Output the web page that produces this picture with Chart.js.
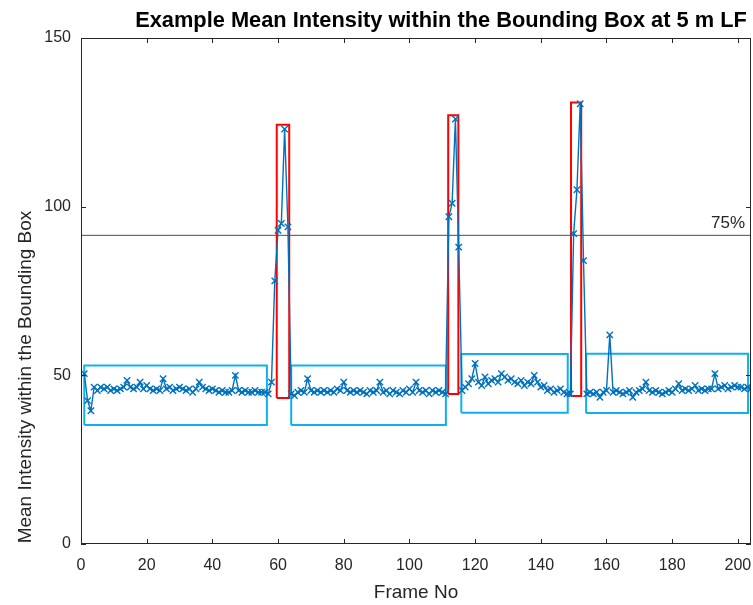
<!DOCTYPE html>
<html><head><meta charset="utf-8">
<script src="https://cdn.jsdelivr.net/npm/chart.js@4.4.1/dist/chart.umd.min.js"></script>
<style>html,body{margin:0;padding:0;background:#fff;}</style>
</head><body>
<canvas id="c" width="753" height="605"></canvas>
<script>
// ---- data ----
const chartTitle = "Example Mean Intensity within the Bounding Box at 5 m LF";
const xAxisTitle = "Frame No";
const yAxisTitle = "Mean Intensity within the Bounding Box";
const firstFrame = 1;
const meanIntensity = [
  50.5,42.5,39.5,46.5,45.5,46.5,46,46.5,45.5,46,
  45.5,46,46.5,48.5,46.5,46,46.5,48,46,47,
  46,45.5,46,45.5,49,46,46.5,45.5,46,46.5,
  46,45.5,46,45,46,48,46.5,46,45.5,46,
  45.5,45,45.5,45,45,45.5,50,45.5,45,45.5,
  45,45,45.5,45,45,45,44.5,48,78,93,
  95,123,94,44.5,44,45,45.5,45,49,45.5,
  45,45.5,45,45.5,45,45.5,45,46,45.5,48,
  45.5,45,45.5,45,45.5,45,44.5,45.5,45,45.5,
  48,45,45.5,44.5,45.5,45,44.5,45.5,45,46,
  45,48,45.5,45,45.5,44.5,45.5,45,45.5,45,
  44.5,97,101,126,88,45.5,46.5,47.5,49,53.5,
  48,47,49.5,47.5,48.5,49,48,50.5,49.5,48.5,
  49,48,47.5,48.5,47,48,47.5,50,48,46.5,
  47,45.5,46,45,45.5,46,45,44.5,44.5,92,
  105,130.5,84,44.5,45,44.5,45,43.5,45,45.5,
  62,45,45.5,45,44.5,45,45.5,43.5,45,45.5,
  46,48,45.5,45,45.5,45,44.5,45,45.5,45,
  46,47.5,45.5,46,45.5,46,47,45.5,46,45.5,
  46,46,50.5,46,46.5,47,46,46.5,47,46.5,
  46.5,46,46.5,46
];
const xTicks = [0,20,40,60,80,100,120,140,160,180,200];
const yTicks = [0,50,100,150];
const xRange = [0,204];
const yRange = [0,150];
const thresholdValue = 91.5;
const thresholdLabel = "75%";
// boxes in data units: [frameStart, frameEnd, intensityLow, intensityHigh]
const steadyBoxes = [[1.0,56.6,35.3,52.9],[64.0,111.1,35.3,52.9],[115.8,148.2,38.9,56.3],[153.8,203.1,38.8,56.4]];
const peakBoxes = [[59.6,63.4,43.3,124.3],[111.8,114.9,44.5,127.1],[149.2,152.3,43.9,130.9]];

// ---- build ----
const seriesPoints = meanIntensity.map((v,i)=>({x:firstFrame+i,y:v}));
const rectPts = b => [{x:b[0],y:b[2]},{x:b[1],y:b[2]},{x:b[1],y:b[3]},{x:b[0],y:b[3]},{x:b[0],y:b[2]}];
const boxSet = (b,color) => ({type:'line',data:rectPts(b),borderColor:color,borderWidth:2,pointRadius:0,fill:false,tension:0,order:2});

const datasets = [
  {type:'line',label:'Mean intensity',data:seriesPoints,borderColor:'#0072BD',backgroundColor:'#0072BD',
   borderWidth:1.4,pointStyle:'crossRot',pointRadius:4.5,pointBorderWidth:1.4,pointBorderColor:'#0072BD',tension:0,order:0},
  {type:'line',label:'75%',data:[{x:xRange[0],y:thresholdValue},{x:xRange[1],y:thresholdValue}],borderColor:'#4d4d4d',borderWidth:1,pointRadius:0,order:3},
  ...steadyBoxes.map(b=>boxSet(b,'#10B0F0')),
  ...peakBoxes.map(b=>boxSet(b,'#FF0000'))
];

const AX = '#262626';
const decor = {
  id:'decor',
  afterDraw(chart){
    const {ctx, chartArea:a, scales:{x,y}} = chart;
    ctx.save();
    ctx.strokeStyle = AX; ctx.lineWidth = 1;
    ctx.strokeRect(Math.round(a.left)+0.5, Math.round(a.top)+0.5, Math.round(a.right-a.left)-1, Math.round(a.bottom-a.top)-1);
    ctx.beginPath();
    const tl = 5;
    xTicks.forEach(v=>{ const p = Math.round(x.getPixelForValue(v))+0.5;
      ctx.moveTo(p,a.bottom); ctx.lineTo(p,a.bottom-tl); ctx.moveTo(p,a.top); ctx.lineTo(p,a.top+tl); });
    yTicks.forEach(v=>{ const p = Math.round(y.getPixelForValue(v))+0.5;
      ctx.moveTo(a.left,p); ctx.lineTo(a.left+tl,p); ctx.moveTo(a.right,p); ctx.lineTo(a.right-tl,p); });
    ctx.stroke();
    ctx.fillStyle = '#000';
    ctx.font = 'bold 21.8px "Liberation Sans", Arial, sans-serif';
    ctx.textAlign = 'center'; ctx.textBaseline = 'alphabetic';
    ctx.fillText(chartTitle, 441, 27);
    ctx.fillStyle = AX;
    ctx.font = '19px "Liberation Sans", Arial, sans-serif';
    ctx.fillText(xAxisTitle, 416, 598);
    ctx.save();
    ctx.translate(31, 377); ctx.rotate(-Math.PI/2);
    ctx.fillText(yAxisTitle, 0, 0);
    ctx.restore();
    ctx.font = '17px "Liberation Sans", Arial, sans-serif';
    ctx.textAlign = 'right';
    ctx.fillText(thresholdLabel, a.right-6, y.getPixelForValue(thresholdValue)-7);
    ctx.restore();
  }
};

new Chart(document.getElementById('c'), {
  data:{datasets},
  options:{
    responsive:false, animation:false, devicePixelRatio:1,
    layout:{autoPadding:false, padding:{left:0,top:38,right:2,bottom:0}},
    plugins:{legend:{display:false},title:{display:false},tooltip:{enabled:false}},
    scales:{
      x:{type:'linear',min:xRange[0],max:xRange[1],
         afterBuildTicks:s=>{s.ticks = xTicks.map(v=>({value:v}));},
         afterFit:s=>{s.height = 61; s.paddingLeft = 0; s.paddingRight = 0;},
         grid:{display:false,drawTicks:false}, border:{display:false},
         ticks:{font:{size:16,family:'"Liberation Sans", Arial, sans-serif'},color:AX,padding:12,maxRotation:0,autoSkip:false}},
      y:{type:'linear',min:yRange[0],max:yRange[1],
         afterBuildTicks:s=>{s.ticks = yTicks.map(v=>({value:v}));},
         afterFit:s=>{s.width = 81; s.paddingTop = 0; s.paddingBottom = 0;},
         grid:{display:false,drawTicks:false}, border:{display:false},
         ticks:{font:{size:16,family:'"Liberation Sans", Arial, sans-serif'},color:AX,padding:10}}
    }
  },
  plugins:[decor]
});
</script>
</body></html>
